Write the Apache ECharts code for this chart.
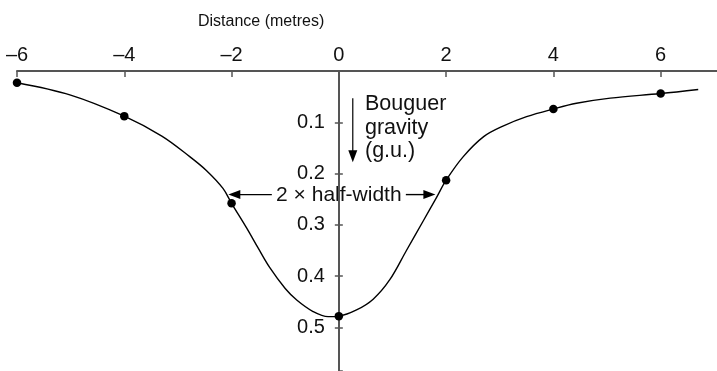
<!DOCTYPE html>
<html>
<head>
<meta charset="utf-8">
<script src="https://cdn.jsdelivr.net/npm/echarts@6/dist/echarts.min.js"></script>
<style>
  html, body { margin: 0; padding: 0; background: #fff; }
  #main { width: 717px; height: 371px; }
</style>
</head>
<body>
<div id="main"></div>
<script>
// distance (m) vs Bouguer gravity (g.u.)
var curvePoints = [
  [-6, 0.023], [-5, 0.047], [-4, 0.088], [-3.3, 0.127], [-2.78, 0.167],
  [-2.47, 0.194], [-2.16, 0.229], [-2, 0.258], [-1.72, 0.306], [-1.5, 0.346],
  [-1.29, 0.383], [-1, 0.424], [-0.78, 0.447], [-0.48, 0.469], [-0.2, 0.479],
  [0, 0.478], [0.33, 0.466], [0.64, 0.445], [0.95, 0.407], [1.26, 0.35],
  [1.57, 0.293], [1.82, 0.247], [2, 0.213], [2.32, 0.167], [2.7, 0.128],
  [3.07, 0.107], [3.5, 0.089], [4, 0.074], [4.43, 0.063], [5.06, 0.053],
  [6, 0.044], [6.7, 0.036]
];
var stations = [
  [-6, 0.023], [-4, 0.088], [-2, 0.258], [0, 0.478], [2, 0.213], [4, 0.074], [6, 0.044]
];
var xTicks = [-6, -4, -2, 0, 2, 4, 6];
var yTicks = [0.1, 0.2, 0.3, 0.4, 0.5];
var halfLevel = 0.241;          // half of peak anomaly
var halfLeft = -2.06, halfRight = 1.8;

var FONT = '"Liberation Sans", Arial, sans-serif';
var AXIS_COLOR = '#555';

var X_MIN = -6, X_MAX = 7.05, Y_MAX = 0.585;
var GRID_LEFT = 17, GRID_TOP = 71, W = 717;
// pixel column of distance 0, where the gravity axis sits
var zeroX = GRID_LEFT + (0 - X_MIN) * (W - GRID_LEFT) / (X_MAX - X_MIN);

var chart = echarts.init(document.getElementById('main'));

function gravityAxis(extra) {
  return Object.assign({
    type: 'value',
    gridIndex: 1,
    inverse: true,
    min: 0,
    max: Y_MAX,
    interval: 0.1,
    position: 'left',
    splitLine: { show: false },
    axisLine: { show: true, onZero: false, lineStyle: { color: AXIS_COLOR, width: 2 } }
  }, extra);
}

chart.setOption({
  animation: false,
  title: {
    text: 'Distance (metres)',
    left: 193, top: 9,
    textStyle: { fontFamily: FONT, fontSize: 16, fontWeight: 'normal', color: '#111' }
  },
  grid: [
    { left: GRID_LEFT, right: 0, top: GRID_TOP, bottom: 0, outerBoundsMode: 'none' },
    { left: zeroX, right: 0, top: GRID_TOP, bottom: 0, outerBoundsMode: 'none' }
  ],
  xAxis: [
    {
      type: 'value',
      gridIndex: 0,
      position: 'top',
      min: X_MIN,
      max: X_MAX,
      interval: 2,
      splitLine: { show: false },
      axisLine: { onZero: false, lineStyle: { color: AXIS_COLOR, width: 2 } },
      axisTick: { inside: true, length: 6, lineStyle: { color: AXIS_COLOR, width: 1.5 } },
      axisLabel: {
        margin: 6,
        showMaxLabel: false,
        fontFamily: FONT, fontSize: 20, color: '#111',
        formatter: function (v) {
          if (xTicks.indexOf(v) < 0) return '';
          return v < 0 ? '\u2013' + (-v) : String(v);
        }
      }
    },
    { type: 'value', gridIndex: 1, show: false, min: 0, max: 1 }
  ],
  yAxis: [
    { type: 'value', gridIndex: 0, show: false, inverse: true, min: 0, max: Y_MAX },
    gravityAxis({
      axisTick: { length: 4, lineStyle: { color: AXIS_COLOR, width: 1.5 } },
      axisLabel: {
        margin: 14,
        showMaxLabel: false,
        fontFamily: FONT, fontSize: 20, color: '#111',
        formatter: function (v) {
          var r = Math.round(v * 10) / 10;
          return yTicks.indexOf(r) >= 0 && Math.abs(r - v) < 1e-9 ? r.toFixed(1) : '';
        }
      }
    }),
    gravityAxis({
      axisTick: { inside: true, length: 4, lineStyle: { color: AXIS_COLOR, width: 1.5 } },
      axisLabel: { show: false }
    })
  ],
  series: [
    {
      type: 'line',
      xAxisIndex: 0, yAxisIndex: 0,
      data: curvePoints,
      smooth: 0.35,
      showSymbol: false,
      lineStyle: { color: '#000', width: 1.4 },
      z: 3
    },
    {
      type: 'scatter',
      xAxisIndex: 0, yAxisIndex: 0,
      data: stations,
      symbolSize: 8.5,
      itemStyle: { color: '#000', opacity: 1 },
      z: 4
    }
  ]
});

// annotations, placed in data coordinates
function px(x, y) { return chart.convertToPixel({ gridIndex: 0 }, [x, y]); }

var leftTip = px(halfLeft, halfLevel);
var rightTip = px(halfRight, halfLevel);
var mid = px(0, halfLevel);
var arrTop = px(0.26, 0.053);
var arrBot = px(0.26, 0.178);
var labelPos = px(0.5, 0.042);

function arrowHead(tip, dir) {
  var L = 12, H = 4.5;
  var x = tip[0], y = tip[1];
  if (dir === 'left') return [[x, y], [x + L, y - H], [x + L, y + H]];
  if (dir === 'right') return [[x, y], [x - L, y - H], [x - L, y + H]];
  return [[x, y], [x - H, y - L], [x + H, y - L]];
}

chart.setOption({
  graphic: [
    { type: 'line', shape: { x1: leftTip[0] + 8, y1: leftTip[1], x2: mid[0] - 67, y2: mid[1] }, style: { stroke: '#000', lineWidth: 1.4 } },
    { type: 'polygon', shape: { points: arrowHead(leftTip, 'left') }, style: { fill: '#000' } },
    { type: 'line', shape: { x1: mid[0] + 67, y1: mid[1], x2: rightTip[0] - 8, y2: rightTip[1] }, style: { stroke: '#000', lineWidth: 1.4 } },
    { type: 'polygon', shape: { points: arrowHead(rightTip, 'right') }, style: { fill: '#000' } },
    {
      type: 'text', x: mid[0], y: mid[1] + 1,
      style: { text: '2 \u00d7 half-width', font: '21px ' + FONT, fill: '#111', align: 'center', verticalAlign: 'middle' }
    },
    { type: 'line', shape: { x1: arrTop[0], y1: arrTop[1], x2: arrBot[0], y2: arrBot[1] - 8 }, style: { stroke: '#000', lineWidth: 1.2 } },
    { type: 'polygon', shape: { points: arrowHead(arrBot, 'down') }, style: { fill: '#000' } },
    {
      type: 'text', x: 365, y: labelPos[1],
      style: { text: 'Bouguer\ngravity\n(g.u.)', font: '21.5px ' + FONT, fill: '#111', lineHeight: 23.5, align: 'left', verticalAlign: 'top' }
    }
  ]
});
</script>
</body>
</html>
